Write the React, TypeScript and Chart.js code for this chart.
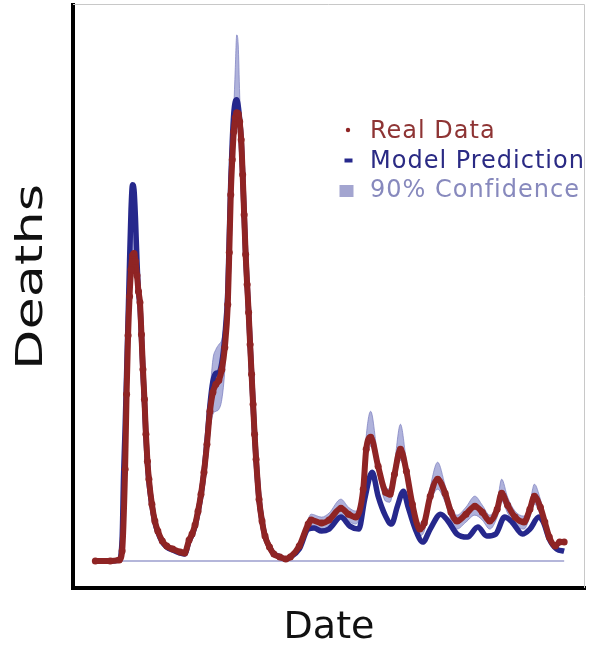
import React, { useEffect, useRef } from "react";
import { Chart, registerables } from "chart.js";

Chart.register(...registerables);

// ---- data (days since start, deaths) ----
const realDays = [0, 10, 16, 18, 20, 21, 22, 23, 24, 25, 26, 27, 28, 29, 30, 31, 32, 33, 34, 35, 36, 38, 40, 42, 45, 48, 52, 57, 60, 63, 65, 67, 69, 71, 73, 75, 77, 79, 81, 83, 85, 87, 89, 90, 91, 92, 93, 94, 95, 96, 97, 98, 99, 100, 101, 102, 103, 104, 105, 106, 107, 108, 110, 112, 114, 117, 120, 124, 128, 131, 137, 143, 145, 152, 157, 165, 170, 175, 180, 182, 185, 190, 195, 198, 201, 205, 209, 213, 218, 221, 225, 230, 235, 239, 243, 249, 255, 260, 265, 270, 273, 277, 282, 288, 292, 295, 299, 302, 305, 309, 312, 315];
const realDeaths = [0, 0, 10, 100, 920, 1670, 2260, 2650, 2920, 3060, 3080, 3000, 2860, 2700, 2590, 2270, 1920, 1620, 1270, 1000, 820, 570, 400, 300, 200, 150, 120, 90, 80, 210, 270, 360, 500, 670, 890, 1170, 1500, 1690, 1770, 1810, 1920, 2140, 2570, 3090, 3670, 4020, 4300, 4440, 4490, 4480, 4400, 4220, 3870, 3470, 3070, 2770, 2490, 2170, 1870, 1570, 1270, 1020, 620, 400, 250, 140, 70, 40, 20, 40, 150, 370, 410, 380, 410, 530, 470, 440, 720, 1120, 1240, 950, 690, 670, 870, 1120, 900, 570, 320, 380, 650, 820, 680, 490, 400, 470, 550, 490, 400, 520, 680, 560, 440, 390, 520, 650, 540, 390, 240, 150, 190, 190];

const modelDays = [0, 10, 16, 18, 19, 20, 21, 22, 23, 24, 25, 26, 27, 28, 29, 30, 31, 32, 33, 34, 35, 36, 38, 40, 42, 45, 48, 52, 57, 60, 63, 65, 67, 69, 71, 73, 75, 77, 79, 81, 83, 85, 87, 89, 90, 91, 92, 93, 94, 95, 96, 97, 98, 99, 100, 101, 102, 103, 104, 105, 106, 107, 108, 110, 112, 114, 117, 120, 123, 128, 131, 137, 143, 147, 152, 157, 165, 171, 177, 181, 186, 190, 195, 199, 203, 207, 210, 215, 220, 225, 232, 237, 243, 250, 257, 263, 269, 275, 280, 287, 292, 298, 301, 305, 310, 315];
const modelDeaths = [0, 0, 10, 220, 870, 1320, 1870, 2420, 3000, 3520, 3770, 3720, 3420, 3000, 2700, 2560, 2250, 1900, 1600, 1250, 990, 800, 560, 390, 290, 190, 140, 110, 80, 70, 200, 260, 350, 490, 660, 890, 1200, 1560, 1800, 1880, 1890, 1990, 2250, 2700, 3250, 3800, 4200, 4480, 4600, 4620, 4560, 4420, 4220, 3870, 3470, 3070, 2770, 2490, 2170, 1870, 1570, 1270, 1020, 620, 400, 250, 140, 70, 50, 20, 40, 120, 320, 330, 300, 320, 440, 350, 320, 620, 890, 650, 450, 370, 550, 700, 550, 320, 190, 320, 470, 400, 270, 240, 340, 250, 270, 440, 390, 270, 320, 440, 390, 220, 120, 100];

const bandDays = [0, 16, 18, 20, 22, 24, 25, 26, 28, 30, 32, 35, 40, 50, 60, 65, 70, 73, 75, 77, 79, 81, 83, 85, 87, 89, 90, 91, 92, 93, 94, 95, 96, 97, 98, 99, 100, 105, 110, 120, 128, 131, 137, 143, 145, 152, 157, 165, 170, 175, 180, 182, 185, 190, 195, 198, 201, 205, 209, 213, 218, 221, 225, 230, 235, 239, 243, 249, 255, 260, 265, 270, 273, 277, 282, 288, 292, 295, 299, 302, 305, 309, 312, 315];
const bandUpper = [0, 10, 220, 1320, 2420, 3520, 3770, 3720, 3000, 2590, 1920, 1000, 400, 130, 80, 270, 600, 900, 1250, 1670, 2020, 2120, 2170, 2220, 2420, 2700, 3150, 3700, 4120, 4520, 4920, 5270, 5170, 4670, 4220, 3870, 3470, 1870, 620, 70, 20, 40, 170, 420, 470, 440, 480, 620, 540, 500, 800, 1250, 1500, 1020, 750, 720, 980, 1370, 1000, 640, 380, 440, 740, 990, 760, 560, 460, 540, 650, 560, 460, 590, 820, 640, 500, 450, 590, 770, 620, 450, 280, 170, 200, 200];
const bandLower = [0, 10, 100, 920, 2260, 2920, 3060, 3080, 2860, 2520, 1900, 980, 390, 120, 80, 270, 580, 870, 1120, 1320, 1470, 1500, 1520, 1620, 1920, 2570, 3090, 3670, 4020, 4300, 4440, 4490, 4480, 4400, 4220, 3870, 3470, 1870, 620, 70, 20, 40, 130, 330, 360, 320, 350, 450, 400, 370, 640, 1000, 1150, 860, 600, 590, 790, 1010, 820, 500, 250, 300, 570, 720, 590, 410, 320, 390, 460, 410, 320, 440, 600, 480, 360, 320, 440, 570, 460, 320, 220, 130, 170, 180];

const baselineDays = [0, 315];
const baselineDeaths = [0, 0];

const seriesLabels = ["Real Data", "Model Prediction", "90% Confidence"];
const xTitle = "Date";
const yTitle = "Deaths";

const RED = "#8f2424";
const BLUE = "#26288c";
const BAND = "rgba(110,115,190,0.55)";

const pts = (xs: number[], ys: number[]) => xs.map((x, i) => ({ x, y: ys[i] }));

const FONT = "'DejaVu Sans', 'Noto Sans', sans-serif";

const decorPlugin = {
  id: "decor",
  afterDraw(chart: any) {
    const { ctx, chartArea: a } = chart;
    ctx.save();
    // thin frame on top and right
    ctx.strokeStyle = "#c8c8c8";
    ctx.lineWidth = 1;
    ctx.beginPath();
    ctx.moveTo(a.left, a.top - 0.5);
    ctx.lineTo(a.right - 0.5, a.top - 0.5);
    ctx.lineTo(a.right - 0.5, a.bottom);
    ctx.stroke();

    // axis titles
    ctx.fillStyle = "#111";
    ctx.font = `38px ${FONT}`;
    ctx.textAlign = "center";
    ctx.textBaseline = "alphabetic";
    ctx.fillText(xTitle, (a.left + a.right) / 2, 638);

    ctx.save();
    ctx.translate(42, 277);
    ctx.rotate(-Math.PI / 2);
    ctx.scale(1.38, 1);
    ctx.fillText(yTitle, 0, 0);
    ctx.restore();

    // legend
    const lx = 370;
    const rows = [138, 168, 197];
    const colors = ["#8e3434", "#2a2a84", "#8789bd"];
    ctx.font = `24px ${FONT}`;
    ctx.textAlign = "left";
    try {
      (ctx as any).letterSpacing = "1px";
    } catch (e) {}
    seriesLabels.forEach((label, i) => {
      ctx.fillStyle = colors[i];
      ctx.fillText(label, lx, rows[i]);
    });
    try {
      (ctx as any).letterSpacing = "0px";
    } catch (e) {}
    // markers
    ctx.fillStyle = RED;
    ctx.beginPath();
    ctx.arc(348, 130, 2.2, 0, Math.PI * 2);
    ctx.fill();
    ctx.fillStyle = BLUE;
    ctx.fillRect(344.5, 158.5, 8, 4);
    ctx.fillStyle = "#a3a5d0";
    ctx.fillRect(339.5, 185, 14, 12);
    ctx.restore();
  },
};

export default function App() {
  const ref = useRef<HTMLCanvasElement | null>(null);
  useEffect(() => {
    if (!ref.current) return;
    const chart = new Chart(ref.current, {
      type: "line",
      data: {
        datasets: [
          {
            label: seriesLabels[0],
            data: pts(realDays, realDeaths),
            borderColor: RED,
            backgroundColor: RED,
            borderWidth: 6,
            pointRadius: 3.5,
            pointBorderWidth: 0,
            pointBackgroundColor: RED,
            cubicInterpolationMode: "monotone",
            fill: false,
            order: 0,
          },
          {
            label: seriesLabels[1],
            data: pts(modelDays, modelDeaths),
            borderColor: BLUE,
            borderWidth: 5.5,
            pointRadius: 0,
            cubicInterpolationMode: "monotone",
            fill: false,
            order: 1,
          },
          {
            label: seriesLabels[2],
            data: pts(bandDays, bandUpper),
            borderColor: "rgba(120,122,190,0.7)",
            backgroundColor: BAND,
            borderWidth: 1,
            pointRadius: 0,
            cubicInterpolationMode: "monotone",
            fill: "+1",
            order: 2,
          },
          {
            label: "lower",
            data: pts(bandDays, bandLower),
            borderColor: "rgba(120,122,190,0.7)",
            borderWidth: 1,
            pointRadius: 0,
            cubicInterpolationMode: "monotone",
            fill: false,
            order: 3,
          },
          {
            label: "baseline",
            data: pts(baselineDays, baselineDeaths),
            borderColor: "#b4b6da",
            borderWidth: 2,
            pointRadius: 0,
            fill: false,
            order: 4,
          },
        ],
      },
      options: {
        responsive: false,
        animation: false,
        events: [],
        layout: { padding: { top: 5, right: 1, left: 0, bottom: 0 } },
        plugins: {
          legend: { display: false },
          tooltip: { enabled: false },
          title: { display: false },
        },
        scales: {
          x: {
            type: "linear",
            min: -15,
            max: 329,
            grid: { display: false, drawTicks: false },
            ticks: { display: false },
            border: { display: true, color: "#000", width: 4 },
            afterFit: (s: any) => {
              s.height = 58;
            },
          },
          y: {
            type: "linear",
            min: -270,
            max: 5570,
            grid: { display: false, drawTicks: false },
            ticks: { display: false },
            border: { display: true, color: "#000", width: 4 },
            afterFit: (s: any) => {
              s.width = 73;
            },
          },
        },
      },
      plugins: [decorPlugin],
    });
    return () => chart.destroy();
  }, []);
  return (
    <div style={{ position: "fixed", left: 0, top: 0, width: 589, height: 646, background: "#fff" }}>
      <canvas ref={ref} width={589} height={646} style={{ display: "block" }} />
    </div>
  );
}
